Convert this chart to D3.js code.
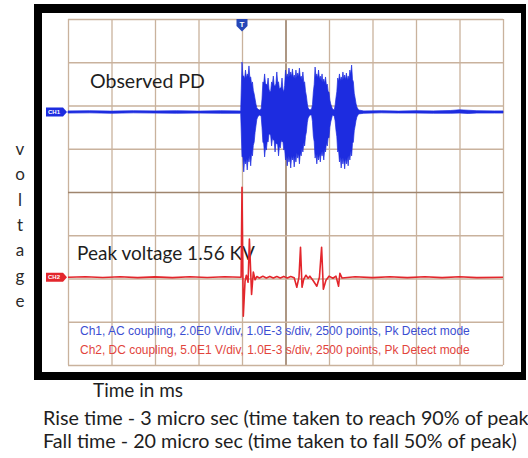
<!DOCTYPE html>
<html>
<head>
<meta charset="utf-8">
<script src="https://cdn.jsdelivr.net/npm/d3@7"></script>
<style>
  html, body { margin: 0; padding: 0; background: #fff; }
  svg { display: block; }
</style>
</head>
<body>
<div id="chart"></div>
<script>
// CH1 peak-detect envelope: time (ms from trigger), max and min (V)
const ch1Time = [-4.00, -3.50, -3.00, -2.50, -2.00, -1.50, -1.00, -0.50, -0.03,
  0.00, 0.02, 0.04, 0.06, 0.08, 0.10, 0.12, 0.14, 0.16, 0.18, 0.20, 0.22, 0.24, 0.26,
  0.28, 0.30, 0.32, 0.34, 0.36, 0.40, 0.44,
  0.46, 0.48, 0.50, 0.52, 0.54, 0.56, 0.58, 0.60, 0.62, 0.64, 0.66, 0.68, 0.70,
  0.72, 0.74, 0.76, 0.78, 0.80, 0.82, 0.84, 0.86, 0.88, 0.90, 0.92, 0.94, 0.96, 0.98,
  1.00, 1.02, 1.04, 1.06, 1.08, 1.10, 1.12, 1.14, 1.16, 1.18, 1.20, 1.22, 1.24, 1.26,
  1.28, 1.30, 1.32, 1.34, 1.36, 1.38, 1.40, 1.42, 1.44, 1.46, 1.48, 1.50, 1.52, 1.56, 1.60,
  1.62, 1.64, 1.66, 1.68, 1.70, 1.72, 1.74, 1.76, 1.78, 1.80, 1.82, 1.84, 1.86, 1.88,
  1.90, 1.92, 1.94, 1.96, 1.98, 2.00, 2.02, 2.04, 2.08, 2.12,
  2.14, 2.16, 2.18, 2.20, 2.22, 2.24, 2.26, 2.28, 2.30, 2.32, 2.34, 2.36, 2.38, 2.40,
  2.42, 2.44, 2.46, 2.48, 2.50, 2.52, 2.54, 2.56, 2.58, 2.60, 2.62, 2.64, 2.68,
  2.80, 3.20, 3.60, 4.00, 4.40, 4.80, 5.00, 5.20, 5.40, 5.80, 6.00];
const ch1Max = [0.05, 0.06, 0.04, 0.06, 0.05, 0.06, 0.04, 0.06, 0.05,
  2.31, 1.68, 1.66, 1.53, 1.94, 1.57, 1.76, 1.65, 2.13, 1.59, 1.62, 1.28, 1.39, 1.00,
  0.83, 0.60, 0.37, 0.20, 0.14, 0.09, 0.14,
  0.60, 1.39, 1.34, 1.76, 1.30, 1.29, 1.22, 1.57, 1.06, 0.92, 0.98, 1.39, 1.30,
  1.66, 1.22, 1.20, 1.30, 1.85, 1.38, 1.39, 1.06, 1.11, 1.14, 1.57, 1.06, 0.92, 1.22,
  1.94, 1.57, 1.76, 1.61, 2.03, 1.65, 1.85, 1.63, 1.99, 1.57, 1.71, 1.55, 1.94, 1.59,
  1.80, 1.63, 2.03, 1.57, 1.66, 1.49, 1.85, 1.38, 1.39, 0.96, 0.74, 0.40, 0.18, 0.09, 0.14,
  0.35, 0.92, 1.28, 2.08, 1.63, 1.76, 1.57, 1.94, 1.53, 1.66, 1.45, 1.76, 1.39, 1.52,
  1.33, 1.62, 1.24, 1.29, 0.94, 0.92, 0.55, 0.37, 0.14, 0.09,
  0.30, 0.65, 0.94, 1.57, 1.42, 1.76, 1.44, 1.62, 1.47, 1.85, 1.51, 1.71, 1.49, 1.80,
  1.47, 1.66, 1.53, 1.94, 1.75, 2.17, 1.51, 1.39, 0.87, 0.65, 0.40, 0.23, 0.09,
  0.05, 0.06, 0.04, 0.06, 0.05, 0.07, 0.10, 0.08, 0.06, 0.05, 0.05];
const ch1Min = [-0.05, -0.04, -0.06, -0.04, -0.05, -0.06, -0.05, -0.06, -0.06,
  -2.08, -2.06, -2.77, -2.20, -2.40, -2.16, -2.68, -2.12, -2.31, -2.04, -2.49, -1.92, -2.03, -1.54,
  -1.39, -0.95, -0.65, -0.35, -0.23, -0.14, -0.18,
  -0.70, -1.39, -1.47, -2.08, -1.63, -1.76, -1.34, -1.39, -1.02, -1.02, -1.10, -1.57, -1.22,
  -1.29, -1.33, -1.85, -1.42, -1.48, -1.49, -2.03, -1.57, -1.66, -1.30, -1.39, -1.34, -1.76, -1.69,
  -2.22, -2.00, -2.49, -2.04, -2.31, -2.08, -2.59, -2.04, -2.22, -2.02, -2.54, -2.06, -2.31, -1.89,
  -2.13, -1.93, -2.40, -1.88, -2.03, -1.65, -1.85, -1.45, -1.57, -1.12, -0.92, -0.50, -0.28, -0.14, -0.14,
  -0.45, -1.11, -1.38, -2.13, -1.93, -2.40, -1.96, -2.22, -1.93, -2.31, -1.84, -2.03, -1.81, -2.22,
  -1.73, -1.85, -1.45, -1.57, -1.18, -1.20, -0.70, -0.46, -0.14, -0.18,
  -0.40, -0.83, -1.14, -1.85, -1.77, -2.31, -2.08, -2.59, -2.12, -2.40, -2.14, -2.63, -2.14, -2.40,
  -2.08, -2.49, -2.00, -2.22, -1.81, -2.03, -1.45, -1.39, -0.87, -0.65, -0.40, -0.23, -0.09,
  -0.06, -0.04, -0.05, -0.05, -0.06, -0.06, -0.05, -0.07, -0.05, -0.05, -0.05];

// CH2 trace: time (ms from trigger) and voltage (V)
const ch2Time = [-4.00, -3.60, -3.20, -2.80, -2.40, -2.00, -1.60, -1.20, -0.80, -0.40, -0.02,
  0.00, 0.03, 0.07, 0.10, 0.14, 0.17, 0.22, 0.26, 0.30, 0.34,
  0.40, 0.48, 0.56, 0.64, 0.72, 0.80, 0.88, 0.96, 1.04, 1.12, 1.20,
  1.26, 1.31, 1.345, 1.38, 1.42, 1.47, 1.52, 1.56, 1.63, 1.72, 1.78, 1.83, 1.87, 1.93,
  2.00, 2.09, 2.16, 2.22, 2.25, 2.30, 2.60, 3.00, 3.40, 3.80, 4.20, 4.60, 5.00, 5.40, 6.00];
const ch2Volt = [0, 0.5, -0.4, 0.5, -0.5, 0.4, -0.5, 0.5, -0.4, 0.5, 0,
  104, -45, -4.6, 2.3, -5.8, 44, -20, 6, -3, 0.8,
  -0.9, 1.0, -0.8, 0.9, -1.0, 0.8, -0.9, 0.9, -0.8, 0.8, -0.7,
  -11.6, 0, 34.7, -11.6, -2.3, 2.3, -1.2, 1.2, -3.5, -10.4, 0, 34.7, -13.9, -3.5,
  1.2, -1.2, 1.2, -10.4, 4.6, -1.0, 0.5, -0.5, 0.5, -0.5, 0.5, -0.5, 0.5, -0.5, 0];

const channelInfo = [
  'Ch1, AC coupling, 2.0E0 V/div, 1.0E-3 s/div, 2500 points, Pk Detect mode',
  'Ch2, DC coupling, 5.0E1 V/div, 1.0E-3 s/div, 2500 points, Pk Detect mode',
];
const sideLetters = ['v', 'o', 'l', 't', 'a', 'g', 'e'];
const notes = [
  'Rise time - 3 micro sec (time taken to reach 90% of peak)',
  'Fall time - 20 micro sec (time taken to fall 50% of peak)',
];

const cfg = {
  width: 528,
  height: 458,
  voltsPerDiv: [2, 50],
  position: [1.85, -1.97], // ground marker, in divisions from centre
  blue: '#1d2ce0',
  red: '#e3262c',
  grid: '#c9b29d',
  gridCenter: '#9f856e',
  font: 'Lato, "Open Sans", sans-serif',
};

const svg = d3.select('#chart').append('svg')
  .attr('width', cfg.width)
  .attr('height', cfg.height);

// stretch a text's font size so it spans the width seen in the picture
function fit(sel, w) {
  const len = sel.node().getComputedTextLength();
  sel.attr('font-size', parseFloat(sel.attr('font-size')) * w / len);
  return sel;
}

const x = d3.scaleLinear().domain([-4, 6]).range([68, 503]);
const div = d3.scaleLinear().domain([-4, 4]).range([365, 19]);
const y1 = v => div(cfg.position[0] + v / cfg.voltsPerDiv[0]);
const y2 = v => div(cfg.position[1] + v / cfg.voltsPerDiv[1]);

// black photo frame
svg.append('rect').attr('x', 34).attr('y', 4).attr('width', 492).attr('height', 9).attr('fill', '#000');
svg.append('rect').attr('x', 34).attr('y', 372).attr('width', 492).attr('height', 8).attr('fill', '#000');
svg.append('rect').attr('x', 34).attr('y', 4).attr('width', 8).attr('height', 376).attr('fill', '#000');
svg.append('rect').attr('x', 521).attr('y', 4).attr('width', 5).attr('height', 376).attr('fill', '#000');

// graticule
const isCentre = (g, d) => (g === gx ? d === 1 : d === 0);
const gx = svg.append('g')
  .attr('transform', `translate(0,${div(-4)})`)
  .call(d3.axisBottom(x).tickValues(d3.range(-4, 7)).tickSize(div(4) - div(-4)).tickFormat(''));
const gy = svg.append('g')
  .attr('transform', `translate(${x(-4)},0)`)
  .call(d3.axisLeft(div).tickValues(d3.range(-4, 5)).tickSize(x(-4) - x(6)).tickFormat(''));
[gx, gy].forEach((g) => {
  g.select('.domain').remove();
  g.selectAll('.tick line')
    .attr('stroke', d => (isCentre(g, d) ? cfg.gridCenter : cfg.grid))
    .attr('stroke-width', d => (isCentre(g, d) ? 1.7 : 1.3));
});

// labels under the traces
svg.append('text').text('Observed PD')
  .attr('x', 90).attr('y', 88)
  .attr('font-family', cfg.font).attr('font-size', 19).attr('fill', '#1e1e1e')
  .call(fit, 115);
svg.append('text').text('Peak voltage 1.56 KV')
  .attr('x', 77).attr('y', 260)
  .attr('font-family', cfg.font).attr('font-size', 21).attr('fill', '#1e1e1e')
  .call(fit, 178);

svg.selectAll('text.info')
  .data(channelInfo).enter().append('text')
  .attr('class', 'info')
  .text(d => d)
  .attr('x', 80)
  .attr('y', (d, i) => 335 + i * 19)
  .attr('font-family', 'Liberation Sans, Arial, sans-serif')
  .attr('font-size', 11)
  .attr('fill', (d, i) => (i === 0 ? '#3b4ed2' : '#e2443c'))
  .each(function () { fit(d3.select(this), 390); });

// CH1 envelope
const ch1 = ch1Time.map((t, i) => ({ t, hi: ch1Max[i], lo: ch1Min[i] }));
svg.append('path')
  .datum(ch1)
  .attr('d', d3.area().x(d => x(d.t)).y0(d => y1(d.lo)).y1(d => y1(d.hi)))
  .attr('fill', cfg.blue)
  .attr('stroke', cfg.blue)
  .attr('stroke-width', 0.7)
  .attr('stroke-linejoin', 'miter');

// CH2 trace
const ch2 = ch2Time.map((t, i) => ({ t, v: ch2Volt[i] }));
svg.append('path')
  .datum(ch2)
  .attr('d', d3.line().x(d => x(d.t)).y(d => y2(d.v)))
  .attr('fill', 'none')
  .attr('stroke', cfg.red)
  .attr('stroke-width', 1.6)
  .attr('stroke-linejoin', 'round');

// channel ground markers
const markers = [
  { name: 'CH1', y: y1(0), color: cfg.blue },
  { name: 'CH2', y: y2(0), color: cfg.red },
];
const mk = svg.selectAll('g.marker')
  .data(markers).enter().append('g')
  .attr('class', 'marker')
  .attr('transform', d => `translate(${x(-4)},${d.y})`);
mk.append('path')
  .attr('d', 'M-22,-4.5 H-5 L-1,0 L-5,4.5 H-22 Z')
  .attr('fill', d => d.color);
mk.append('text')
  .text(d => d.name)
  .attr('x', -14).attr('y', 2.2)
  .attr('text-anchor', 'middle')
  .attr('font-family', 'Liberation Sans, Arial, sans-serif')
  .attr('font-size', 6).attr('font-weight', 'bold')
  .attr('fill', '#fff');

// trigger marker
const trig = svg.append('g').attr('transform', `translate(${x(0)},${div(4)})`);
trig.append('path')
  .attr('d', 'M-5.5,0 H5.5 V7 L0,12.5 L-5.5,7 Z')
  .attr('fill', '#2647b8');
trig.append('text').text('T')
  .attr('y', 8).attr('text-anchor', 'middle')
  .attr('font-family', 'Liberation Sans, Arial, sans-serif')
  .attr('font-size', 8).attr('font-weight', 'bold')
  .attr('fill', '#fff');

// side caption, one letter per line
svg.selectAll('text.side')
  .data(sideLetters).enter().append('text')
  .attr('class', 'side')
  .text(d => d)
  .attr('x', 20)
  .attr('y', (d, i) => 155 + i * 25.3)
  .attr('text-anchor', 'middle')
  .attr('font-family', cfg.font)
  .attr('font-size', 17)
  .attr('fill', '#2a2a2a');

svg.append('text').text('Time in ms')
  .attr('x', 93).attr('y', 397)
  .attr('font-family', cfg.font).attr('font-size', 17).attr('fill', '#1e1e1e')
  .call(fit, 90);

const fall = svg.append('text').text(notes[1])
  .attr('x', 43).attr('y', 448)
  .attr('font-family', cfg.font).attr('font-size', 17).attr('fill', '#1e1e1e')
  .call(fit, 474);
svg.append('text').text(notes[0])
  .attr('x', 43).attr('y', 425)
  .attr('font-family', cfg.font).attr('font-size', fall.attr('font-size')).attr('fill', '#1e1e1e');
</script>
</body>
</html>
